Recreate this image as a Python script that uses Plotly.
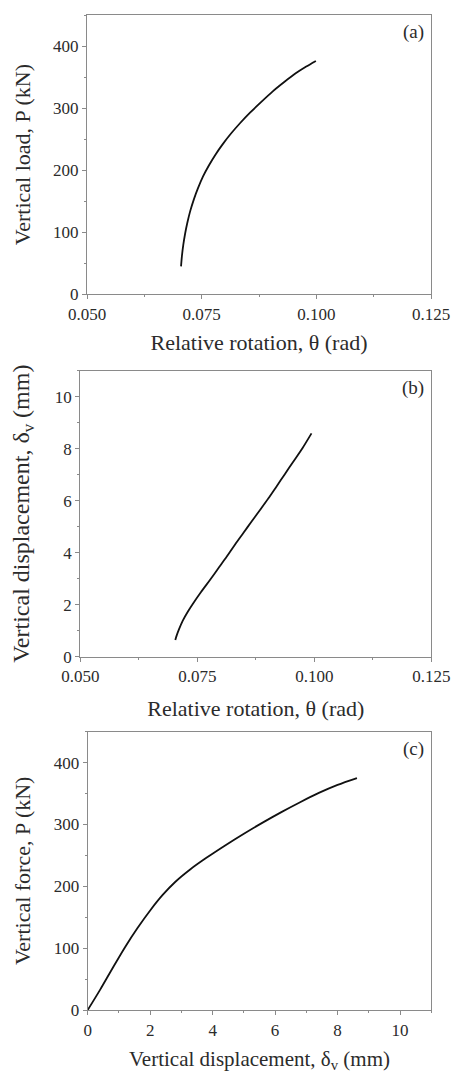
import plotly.graph_objects as go

# Panel (a): relative rotation vs vertical load
theta_a = [0.0705, 0.0707, 0.0710, 0.0714, 0.0719, 0.0725, 0.0733, 0.0742, 0.0753,
           0.0766, 0.0780, 0.0796, 0.0814, 0.0834, 0.0856, 0.0880, 0.0905, 0.0930,
           0.0955, 0.0978, 0.0999]
load_a = [45, 62, 80, 98, 116, 134, 153, 171, 190, 208, 225, 242, 259, 276, 293,
          310, 327, 342, 356, 367, 376]

# Panel (b): relative rotation vs vertical displacement
theta_b = [0.0703, 0.0706, 0.0711, 0.0719, 0.0730, 0.0741, 0.0758, 0.0777, 0.0795,
           0.0813, 0.0830, 0.0848, 0.0866, 0.0884, 0.0902, 0.0919, 0.0937, 0.0955,
           0.0975, 0.0994]
disp_b = [0.64, 0.82, 1.06, 1.39, 1.74, 2.05, 2.49, 2.95, 3.4, 3.85, 4.3, 4.75, 5.2,
          5.64, 6.09, 6.54, 7.02, 7.5, 8.03, 8.59]

# Panel (c): vertical displacement vs vertical force
disp_c = [0, 0.4, 0.8, 1.2, 1.6, 2.0, 2.4, 2.8, 3.3, 3.8, 4.4, 5.0, 5.6, 6.2, 6.8,
          7.4, 8.0, 8.62]
force_c = [0, 33, 68, 102, 133, 161, 186, 207, 228, 246, 266, 285, 303, 320, 336,
           351, 364, 375]

panel_labels = ["(a)", "(b)", "(c)"]

FONT = "Liberation Serif"
TXT = "#2b2b2b"
AX = "#8a8a8a"

fig = go.Figure()
line = dict(color="#111111", width=1.8, shape="spline", smoothing=0.8)
fig.add_trace(go.Scatter(x=theta_a, y=load_a, mode="lines", line=line,
                         xaxis="x", yaxis="y", showlegend=False))
fig.add_trace(go.Scatter(x=theta_b, y=disp_b, mode="lines", line=line,
                         xaxis="x2", yaxis="y2", showlegend=False))
fig.add_trace(go.Scatter(x=disp_c, y=force_c, mode="lines", line=line,
                         xaxis="x3", yaxis="y3", showlegend=False))


def ax(title, rng, dtick, minor_dtick, domain, anchor, tfmt=None, tsize=21, standoff=10):
    d = dict(
        domain=domain, anchor=anchor, range=rng, dtick=dtick, tick0=0,
        showgrid=False, zeroline=False, showline=True, linecolor=AX, linewidth=1.3,
        mirror=True, ticks="outside", ticklen=4, tickwidth=1, tickcolor=AX,
        tickfont=dict(family=FONT, size=17, color=TXT),
        title=dict(text=title, font=dict(family=FONT, size=tsize, color=TXT), standoff=standoff),
        minor=dict(dtick=minor_dtick, tick0=0, ticks="outside", ticklen=2,
                   tickcolor=AX, tickwidth=1, showgrid=False),
        automargin=False,
    )
    if tfmt:
        d["tickformat"] = tfmt
    return d


W, H = 454, 1073
def fx(px):
    return px / W
def fy(py):
    return 1 - py / H

fig.update_layout(
    width=W, height=H,
    margin=dict(l=0, r=0, t=0, b=0),
    paper_bgcolor="white", plot_bgcolor="white",
    xaxis=ax("Relative rotation, θ (rad)", [0.05, 0.125], 0.025, 0.0125,
             [fx(87), fx(431)], "y", ".3f", tsize=22, standoff=11),
    yaxis=ax("Vertical load, P (kN)", [0, 450], 100, 50,
             [fy(294.3), fy(15)], "x", tsize=22, standoff=16),
    xaxis2=ax("Relative rotation, θ (rad)", [0.05, 0.125], 0.025, 0.0125,
              [fx(80.3), fx(431.3)], "y2", ".3f", tsize=22, standoff=15),
    yaxis2=ax("Vertical displacement, δ<sub>v</sub> (mm)", [0, 11], 2, 1,
              [fy(656.7), fy(370.7)], "x2", tsize=24, standoff=18),
    xaxis3=ax("Vertical displacement, δ<sub>v</sub> (mm)", [0, 11], 2, 1,
              [fx(87.7), fx(431.3)], "y3", tsize=21, standoff=14),
    yaxis3=ax("Vertical force, P (kN)", [0, 450], 100, 50,
              [fy(1010), fy(731.7)], "x3", tsize=22, standoff=16),
)

for lab, xr, yr in zip(panel_labels, ["x domain", "x2 domain", "x3 domain"],
                       ["y domain", "y2 domain", "y3 domain"]):
    fig.add_annotation(text=lab, xref=xr, yref=yr, x=0.985, y=0.985,
                       xanchor="right", yanchor="top", showarrow=False,
                       font=dict(family=FONT, size=19, color=TXT))

fig.write_html("out.html")
